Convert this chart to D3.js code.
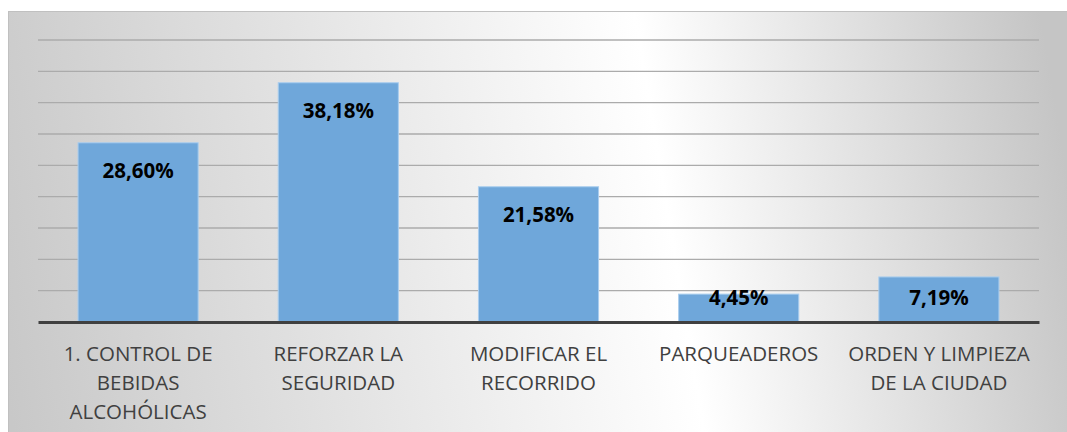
<!DOCTYPE html>
<html>
<head>
<meta charset="utf-8">
<script src="https://cdn.jsdelivr.net/npm/d3@7"></script>
<style>
  html, body { margin: 0; padding: 0; background: #ffffff; }
  svg { display: block; }
</style>
</head>
<body>
<svg id="chart"></svg>
<script>
// Data
const categories = [
  "1. CONTROL DE\nBEBIDAS\nALCOHÓLICAS",
  "REFORZAR LA\nSEGURIDAD",
  "MODIFICAR EL\nRECORRIDO",
  "PARQUEADEROS",
  "ORDEN Y LIMPIEZA\nDE LA CIUDAD"
];
const values = [28.60, 38.18, 21.58, 4.45, 7.19];
const valueLabels = ["28,60%", "38,18%", "21,58%", "4,45%", "7,19%"];
const gridTicks = [5, 10, 15, 20, 25, 30, 35, 40, 45];

// Chart dimensions
const Width = 1067;
const Height = 432;
const plotLeft = 38, plotRight = 1039, plotTop = 40, plotBase = 322;

const svg = d3.select("#chart")
  .attr("width", Width)
  .attr("height", Height);

// Background gradient
const grad = svg.append("defs").append("linearGradient")
  .attr("id", "bg")
  .attr("gradientUnits", "userSpaceOnUse")
  .attr("x1", 0).attr("y1", 350)
  .attr("x2", 1067).attr("y2", 173);
grad.append("stop").attr("offset", 0).attr("stop-color", "#c8c8c8");
grad.append("stop").attr("offset", 0.63).attr("stop-color", "#ffffff");
grad.append("stop").attr("offset", 1).attr("stop-color", "#c5c5c5");

svg.append("rect")
  .attr("x", 8.5).attr("y", 11.5)
  .attr("width", Width).attr("height", Height)
  .attr("fill", "url(#bg)")
  .attr("stroke", "#c0c0c0")
  .attr("stroke-width", 1);

// Scales
const xScale = d3.scaleBand()
  .domain(categories)
  .range([plotLeft, plotRight])
  .paddingInner(0.4)
  .paddingOuter(0.2);

const yScale = d3.scaleLinear()
  .domain([0, 45])
  .range([plotBase, plotTop]);

// Gridlines
svg.append("g")
  .selectAll("line")
  .data(gridTicks)
  .enter()
  .append("line")
  .attr("x1", plotLeft)
  .attr("x2", plotRight)
  .attr("y1", d => yScale(d))
  .attr("y2", d => yScale(d))
  .attr("stroke", "#ababab")
  .attr("stroke-width", 1.3);

// Bars
const bars = svg.selectAll("g.bar")
  .data(values)
  .enter()
  .append("g")
  .attr("class", "bar");

bars.append("rect")
  .attr("x", (d, i) => xScale(categories[i]))
  .attr("y", d => yScale(d))
  .attr("width", xScale.bandwidth())
  .attr("height", d => plotBase - yScale(d))
  .attr("fill", "#6fa7da")
  .attr("stroke", "#a9cdee")
  .attr("stroke-width", 1);

// Value labels
bars.append("text")
  .attr("x", (d, i) => xScale(categories[i]) + xScale.bandwidth() / 2)
  .attr("y", d => Math.min(yScale(d) + 35, plotBase - 17))
  .attr("text-anchor", "middle")
  .style("font-family", "'Open Sans', sans-serif")
  .style("font-weight", "bold")
  .style("font-size", "20.5px")
  .style("fill", "#000000")
  .text((d, i) => valueLabels[i]);

// Baseline axis
const xAxis = svg.append("g")
  .attr("transform", `translate(0, ${plotBase})`)
  .call(d3.axisBottom(xScale).tickSize(0).tickFormat(""));
xAxis.select(".domain")
  .attr("stroke", "#404040")
  .attr("stroke-width", 3);

// Category labels
const catText = svg.append("g")
  .selectAll("text")
  .data(categories)
  .enter()
  .append("text")
  .attr("x", d => xScale(d) + xScale.bandwidth() / 2)
  .attr("y", 361)
  .attr("text-anchor", "middle")
  .style("font-family", "'Open Sans', sans-serif")
  .style("font-size", "20.5px")
  .style("fill", "#404040");

catText.selectAll("tspan")
  .data(d => d.split("\n"))
  .enter()
  .append("tspan")
  .attr("x", function() { return d3.select(this.parentNode).attr("x"); })
  .attr("dy", (d, i) => i === 0 ? 0 : 29)
  .text(d => d);
</script>
</body>
</html>
